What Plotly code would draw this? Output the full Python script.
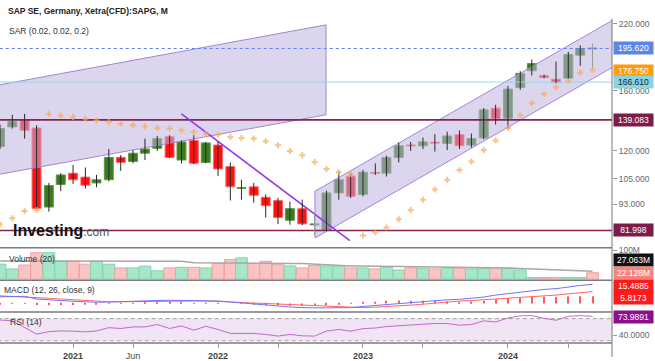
import numpy as np
import pandas as pd
import plotly.graph_objects as go

# ---------------- data ----------------
months = pd.date_range("2020-07-01", "2024-08-01", freq="MS")

open_ = [122.4, 134.5, 139.3, 133.8, 91.7, 102.1, 107.8, 105.8, 102.9, 104.5, 116.3, 114.0,
         118.6, 121.4, 128.3, 114.8, 126.1, 113.5, 123.3, 111.3, 100.3, 101.0, 96.1, 94.6,
         86.1, 91.0, 84.4, 82.1, 98.1, 106.3, 97.4, 108.0, 107.8, 116.2, 123.2, 122.9,
         124.9, 124.3, 129.6, 123.3, 127.6, 147.1, 140.2, 162.3, 175.9, 171.9, 168.9, 169.7,
         189.5, 195.62]
high = [136.0, 142.5, 143.1, 135.5, 102.9, 107.8, 112.1, 110.8, 106.9, 121.0, 117.6, 120.4,
        127.2, 128.8, 129.2, 126.1, 129.2, 125.2, 125.2, 113.5, 104.5, 102.9, 97.4, 95.8,
        94.1, 95.0, 89.2, 99.2, 108.7, 107.8, 109.5, 113.0, 117.2, 124.8, 125.2, 127.8,
        129.9, 131.5, 132.2, 130.3, 147.1, 149.5, 163.6, 175.5, 185.6, 172.7, 183.8, 192.4,
        198.5, 200.2]
low = [121.0, 133.4, 127.2, 90.7, 89.7, 98.9, 102.4, 100.2, 100.8, 103.7, 109.0, 113.0,
       114.8, 119.9, 115.8, 113.0, 112.5, 113.0, 106.3, 94.6, 95.0, 93.6, 87.2, 84.5,
       84.3, 84.1, 80.0, 81.9, 95.0, 95.8, 96.5, 106.9, 106.1, 113.5, 119.9, 121.0,
       119.5, 120.4, 121.0, 121.8, 126.8, 136.0, 133.4, 160.6, 171.9, 169.7, 165.8, 168.9,
       180.1, 177.6]
close = [133.4, 138.0, 132.3, 91.1, 101.6, 106.9, 104.5, 101.8, 104.5, 116.2, 113.5, 118.6,
         121.0, 127.2, 116.2, 125.2, 113.0, 124.6, 110.0, 101.0, 100.6, 97.0, 92.3, 87.2,
         91.0, 84.6, 84.4, 98.1, 104.5, 96.5, 108.3, 107.8, 116.2, 122.9, 122.9, 125.2,
         124.6, 128.8, 122.9, 127.2, 145.9, 139.8, 161.1, 173.7, 182.0, 170.2, 166.3, 190.1,
         195.5, 195.62]
sar = [84.5, 86.9, 90.0, 90.4, 143.1, 142.0, 140.9, 139.8, 138.7, 137.6, 136.6, 135.5,
       134.9, 133.8, 133.4, 132.3, 131.3, 130.0, 129.6, 128.2, 127.6, 127.2, 125.6, 123.2,
       119.9, 117.4, 113.7, 110.0, 108.3, 107.3, 80.0, 81.3, 83.2, 86.5, 90.4, 95.0,
       99.7, 104.5, 109.5, 114.0, 120.4, 126.1, 133.8, 142.0, 150.6, 157.3, 162.4, 167.5,
       174.3, 176.75]
volume_m = [52, 35.5, 49, 92, 92, 63, 63, 52, 63, 52, 39, 39,
            45, 29, 39, 41, 41, 39, 54, 68, 74, 54, 62, 50,
            46, 39, 48, 46, 46, 39, 39, 35.5, 41, 32, 39, 38,
            35.5, 39, 39, 35.5, 38, 39, 38, 32, 5.5, 5.5, 5.5, 5.5,
            5.5, 22.128]
volume_ma_m = [63, 63, 63, 63, 63, 63, 63, 63, 63, 63, 63, 63,
               63, 63, 62, 62, 57, 56, 56, 56, 56, 55, 55, 55,
               54, 54, 52, 48, 47, 46, 46, 45.5, 45, 45, 44, 44,
               43, 43, 42.5, 42, 41.5, 41, 39, 37, 35, 33.5, 32, 30.5,
               29, 27.063]
macd = [5.4, 5.6, 5.8, 3.6, 2.8, 2.4, 1.8, 1.4, 1.0, 1.2, 1.6, 1.8,
        2.2, 2.4, 2.6, 2.6, 2.6, 2.6, 2.0, 1.2, 0.4, -0.4, -1.4, -2.0,
        -2.8, -3.4, -3.8, -3.6, -3.4, -3.4, -2.4, -1.6, -0.4, 0.4, 1.0, 1.6,
        2.4, 3.0, 3.4, 4.0, 5.2, 6.8, 8.0, 9.2, 10.6, 11.4, 12.0, 13.6,
        14.6, 15.4885]
signal = [6.2, 5.8, 5.4, 4.8, 4.2, 3.6, 3.0, 2.4, 1.8, 1.4, 1.4, 1.4,
          1.4, 1.6, 1.8, 1.9, 2.1, 2.2, 1.8, 1.2, 0.6, 0.3, 0.0, -0.5,
          -1.0, -1.4, -1.8, -2.0, -2.6, -3.2, -3.4, -3.0, -2.6, -2.0, -1.3, -0.6,
          0.4, 1.4, 2.0, 2.4, 3.0, 3.4, 4.0, 4.6, 5.2, 6.0, 6.8, 7.8,
          8.8, 9.6712]
hist = [-0.8, -0.2, 0.4, -1.2, -1.4, -1.2, -1.2, -1.0, -0.8, -0.2, 0.2, 0.4,
        0.8, 0.8, 0.8, 0.7, 0.5, 0.4, 0.2, 0.0, -0.2, -0.7, -1.4, -1.5,
        -1.8, -2.0, -2.0, -1.6, -0.8, -0.2, 1.0, 1.4, 2.2, 2.4, 2.3, 2.2,
        2.0, 1.6, 1.4, 1.6, 2.2, 3.4, 4.0, 4.6, 5.4, 5.4, 5.2, 5.8,
        5.8, 5.8173]
rsi = [67.5, 66.0, 54.0, 42.0, 46.4, 47.7, 47.3, 46.0, 47.7, 53.6, 52.1, 55.0,
       55.0, 59.3, 52.1, 56.8, 49.1, 56.2, 50.4, 43.2, 43.2, 43.2, 41.4, 38.4,
       41.4, 38.9, 38.4, 47.3, 50.4, 47.3, 51.8, 53.0, 55.7, 57.1, 59.5, 60.7,
       61.1, 61.1, 58.0, 59.3, 66.0, 63.9, 71.1, 75.0, 75.4, 70.5, 67.0, 74.1,
       75.4, 73.9891]

# drawings (trend channels / line) as anchor points: date, price
channel_a_dates = ["2020-04-02", "2022-09-30"]
channel_a_top = [159.4, 219.0]
channel_a_bottom = [104.0, 142.5]
channel_b_dates = ["2022-09-02", "2024-11-29"]
channel_b_top = [98.9, 241.6]
channel_b_bottom = [79.1, 192.9]
trend_dates = ["2021-10-01", "2022-11-29"]
trend_prices = [143.1, 78.1]

last_price = 195.62
sar_last = 176.75
cyan_level = 166.61
level_high = 139.083
level_low = 81.998

price_ticks = [93, 105, 120, 160, 220]
x_tick_dates = ["2021-01-01", "2021-06-01", "2022-01-01", "2022-06-01",
                "2023-01-01", "2023-06-01", "2024-01-01", "2024-06-01"]
x_tick_text = ["<b>2021</b>", "Jun", "<b>2022</b>", "", "<b>2023</b>", "", "<b>2024</b>", ""]

# ---------------- layout helpers ----------------
TOP, BOT = 18, 347


def py(p):
    return (BOT - p) / (BOT - TOP)


FONT = "Liberation Sans, Arial, sans-serif"
DAY = 86400000
x_full = ["2020-01-01", "2025-03-01"]

fig = go.Figure()

# channels
for d, top, bot in [(channel_a_dates, channel_a_top, channel_a_bottom),
                    (channel_b_dates, channel_b_top, channel_b_bottom)]:
    fig.add_trace(go.Scatter(
        x=[d[0], d[1], d[1], d[0], d[0]],
        y=[top[0], top[1], bot[1], bot[0], top[0]],
        mode="lines", fill="toself", fillcolor="rgba(190,178,222,0.55)",
        line=dict(color="#a485d3", width=1), xaxis="x", yaxis="y"))

# horizontal levels
fig.add_trace(go.Scatter(x=x_full, y=[cyan_level] * 2, mode="lines",
                         line=dict(color="#93d9e8", width=1), xaxis="x", yaxis="y"))
fig.add_trace(go.Scatter(x=x_full, y=[last_price] * 2, mode="lines",
                         line=dict(color="#5b80f0", width=1, dash="dot"), xaxis="x", yaxis="y"))
for lv in (level_high, level_low):
    fig.add_trace(go.Scatter(x=x_full, y=[lv] * 2, mode="lines",
                             line=dict(color="#86234f", width=1.6), xaxis="x", yaxis="y"))

# downtrend line
fig.add_trace(go.Scatter(x=trend_dates, y=trend_prices, mode="lines",
                         line=dict(color="#9b30f0", width=1.5), xaxis="x", yaxis="y"))

# candle wicks
flat = [abs(c - o) < 1e-9 for o, c in zip(open_, close)]
for col, sel in (("#2a2a2a", False), ("#9a9a9a", True)):
    wx, wy = [], []
    for m, lo, hi, f in zip(months, low, high, flat):
        if f == sel:
            wx += [m, m, None]
            wy += [lo, hi, None]
    fig.add_trace(go.Scatter(x=wx, y=wy, mode="lines", line=dict(color=col, width=1),
                             xaxis="x", yaxis="y"))

# candle bodies
base, size, fillc, linec = [], [], [], []
for o, c, f in zip(open_, close, flat):
    d = abs(c - o)
    s = max(d, 0.005 * o)
    base.append(min(o, c) - (s - d) / 2)
    size.append(s)
    if f:
        fillc.append("#8a8a8a"); linec.append("#7a7a7a")
    elif c > o:
        fillc.append("#3a7b20"); linec.append("#5e9a4a")
    else:
        fillc.append("#ff1010"); linec.append("#ff6a6a")
fig.add_trace(go.Bar(x=months, y=size, base=base, width=22.6 * DAY,
                     marker=dict(color=fillc, line=dict(color=linec, width=1)),
                     xaxis="x", yaxis="y"))

# SAR
fig.add_trace(go.Scatter(x=months, y=sar, mode="markers",
                         marker=dict(symbol="cross", size=5, color="rgba(250,170,90,0.72)",
                                     line=dict(width=0)),
                         xaxis="x", yaxis="y"))

# volume
vfill = ["#a8e6cc" if c > o else "#fac4c4" for o, c in zip(open_, close)]
vline = ["#7fd6ae" if c > o else "#f2a0a0" for o, c in zip(open_, close)]
fig.add_trace(go.Bar(x=months, y=volume_m, width=29.8 * DAY,
                     marker=dict(color=vfill, line=dict(color=vline, width=1)),
                     xaxis="x", yaxis="y2"))
fig.add_trace(go.Scatter(x=months, y=volume_ma_m, mode="lines",
                         line=dict(color="#a8a8a8", width=1.5), xaxis="x", yaxis="y2"))

# MACD
fig.add_trace(go.Bar(x=months, y=hist, width=2.6 * DAY, marker=dict(color="#ff5a5a", line=dict(width=0)),
                     xaxis="x", yaxis="y3"))
fig.add_trace(go.Scatter(x=months, y=signal, mode="lines",
                         line=dict(color="#ff6464", width=1), xaxis="x", yaxis="y3"))
fig.add_trace(go.Scatter(x=months, y=macd, mode="lines",
                         line=dict(color="#7070ff", width=1), xaxis="x", yaxis="y3"))

# RSI band + line
fig.add_trace(go.Scatter(x=x_full, y=[70, 70], mode="lines",
                         line=dict(color="#a0a0a0", width=1, dash="4px,3px"), xaxis="x", yaxis="y4"))
fig.add_trace(go.Scatter(x=x_full, y=[30, 30], mode="lines", fill="tonexty",
                         fillcolor="rgba(222,196,232,0.45)",
                         line=dict(color="#a0a0a0", width=1, dash="4px,3px"), xaxis="x", yaxis="y4"))
fig.add_trace(go.Scatter(x=months, y=rsi, mode="lines",
                         line=dict(color="#c468cc", width=1), xaxis="x", yaxis="y4"))

# ---------------- axes ----------------
yax_common = dict(side="right", anchor="x", showgrid=False, zeroline=False, showline=False,
                  ticks="outside", ticklen=4, tickcolor="#999",
                  tickfont=dict(family=FONT, size=8.5, color="#666"), fixedrange=True)

fig.update_layout(
    width=655, height=361,
    margin=dict(l=0, r=43, t=TOP, b=361 - BOT),
    paper_bgcolor="white", plot_bgcolor="white",
    showlegend=False, hovermode=False, barmode="overlay",
    font=dict(family=FONT, size=9, color="#333"),
    xaxis=dict(type="date", range=["2020-07-01", "2024-09-19"], anchor="y4",
               showgrid=False, zeroline=False, showline=False,
               tickmode="array", tickvals=x_tick_dates, ticktext=x_tick_text,
               ticks="outside", ticklen=4, tickcolor="#999",
               tickfont=dict(family=FONT, size=9, color="#444")),
    yaxis=dict(type="log", domain=[py(250), 1],
               range=[np.log10(75.7), np.log10(226.3)],
               tickmode="array", tickvals=price_ticks,
               ticktext=["%.3f" % v for v in price_ticks], **yax_common),
    yaxis2=dict(domain=[py(283), py(251)], range=[-2.4, 107.9],
                tickmode="array", tickvals=[100], ticktext=["100M"], **yax_common),
    yaxis3=dict(domain=[py(315), py(284)], range=[-6.4, 18.4],
                tickmode="array", tickvals=[], **yax_common),
    yaxis4=dict(domain=[0, py(316)], range=[25.9, 81.25],
                tickmode="array", tickvals=[40], ticktext=["40.0000"], **yax_common),
)

# separators and right axis line
shapes = []
for p in (250.5, 283.5, 315.5, 347):
    shapes.append(dict(type="line", xref="paper", yref="paper", x0=0, x1=1, y0=py(p), y1=py(p),
                       line=dict(color="#7a7a7a", width=1.5)))
shapes.append(dict(type="line", xref="paper", yref="paper", x0=1, x1=1, y0=py(361), y1=py(19),
                   line=dict(color="#777", width=1)))
fig.update_layout(shapes=shapes)

# ---------------- annotations ----------------
ann = []


def box(text, yref, y, bg, fg="white", yshift=0):
    ann.append(dict(text=text, xref="paper", x=1, xanchor="left", xshift=1,
                    yref=yref, y=y, yanchor="middle", yshift=yshift, showarrow=False,
                    bgcolor=bg, borderpad=1, width=37, align="center",
                    font=dict(family=FONT, size=8.5, color=fg)))


box("%.3f" % last_price, "y", np.log10(last_price), "#5b86e6")
box("%.3f" % sar_last, "y", np.log10(sar_last), "#ff9a0a", yshift=-1)
box("%.3f" % cyan_level, "y", np.log10(cyan_level), "#86d4e4", fg="#222")
box("%.3f" % level_high, "y", np.log10(level_high), "#7c1d49")
box("%.3f" % level_low, "y", np.log10(level_low), "#7c1d49")
box("%.3fM" % volume_ma_m[-1], "y2", volume_ma_m[-1], "#111111", yshift=11)
box("%.3fM" % volume_m[-1], "y2", volume_m[-1], "#f7847a")
box("%.4f" % macd[-1], "y3", macd[-1], "#ff1a1a", yshift=-2)
box("%.4f" % hist[-1], "y3", hist[-1], "#ff1a1a", yshift=-2)
box("%.4f" % rsi[-1], "y4", rsi[-1], "#8e0e8e", yshift=-1)


def label(text, x_px, y_px, size=8.5, bold=False, color="#333"):
    ann.append(dict(text=("<b>%s</b>" % text) if bold else text, xref="paper", x=x_px / 612,
                    xanchor="left", yref="paper", y=py(y_px), yanchor="middle",
                    showarrow=False, font=dict(family=FONT, size=size, color=color)))


label("SAP SE, Germany, Xetra(CFD):SAPG, M", 6, 11, size=8.5, bold=True, color="#222")
label("SAR (0.02, 0.02, 0.2)", 7, 31.5)
label("Volume (20)", 7, 262)
label("MACD (12, 26, close, 9)", 2, 293.5)
label("RSI (14)", 8, 325.5)
ann.append(dict(text="<b>Investing</b><span style='font-size:12px;color:#555'>.com</span>",
                xref="paper", x=11 / 612, xanchor="left", yref="paper", y=py(233),
                yanchor="middle", showarrow=False,
                font=dict(family=FONT, size=16, color="#111")))

fig.update_layout(annotations=ann)

fig.write_html("out.html", config={"displayModeBar": False})
